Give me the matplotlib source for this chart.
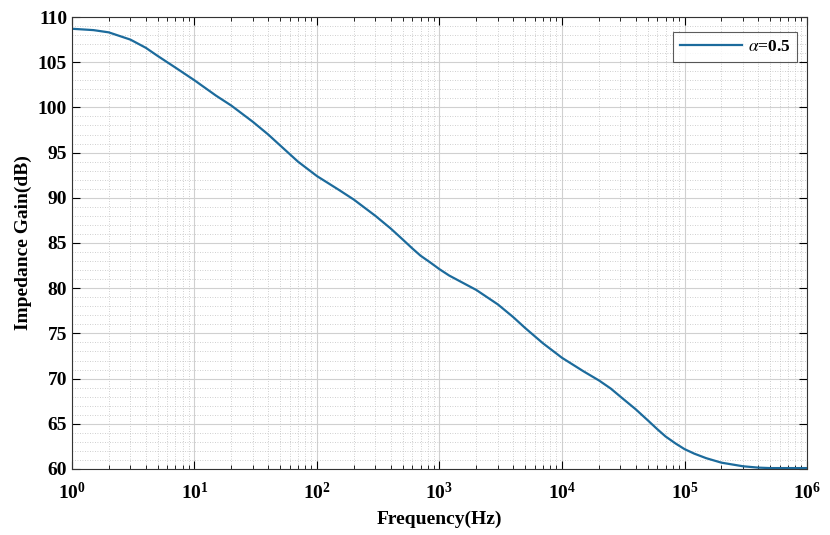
import matplotlib
matplotlib.use("Agg")
import matplotlib.pyplot as plt
from matplotlib.ticker import LogLocator, MultipleLocator, NullFormatter

freq = [1, 1.5, 2, 3, 4, 5, 7, 10, 15, 20, 30, 40, 50, 70, 100, 150, 200, 300,
        400, 500, 600, 700, 850, 1000, 1200, 1500, 2000, 3000, 4000, 5000,
        7000, 10000, 15000, 20000, 25000, 30000, 40000, 50000, 60000, 70000,
        85000, 100000, 120000, 150000, 200000, 300000, 400000, 500000,
        700000, 1000000]
gain = [108.7, 108.55, 108.3, 107.5, 106.6, 105.7, 104.4, 103.0, 101.3,
        100.2, 98.4, 97.0, 95.8, 94.0, 92.4, 90.9, 89.8, 88.0, 86.6, 85.4,
        84.4, 83.6, 82.8, 82.1, 81.4, 80.7, 79.8, 78.2, 76.8, 75.6, 73.9,
        72.3, 70.8, 69.8, 68.9, 68.0, 66.6, 65.4, 64.4, 63.6, 62.8, 62.2,
        61.7, 61.2, 60.7, 60.3, 60.15, 60.1, 60.1, 60.1]

plt.rcParams['font.family'] = ['Liberation Serif', 'DejaVu Serif']
plt.rcParams['mathtext.fontset'] = 'stix'

fig = plt.figure(figsize=(8.3, 5.35), dpi=100)
ax = fig.add_axes([0.0867, 0.1234, 0.8856, 0.8448])

ax.semilogx(freq, gain, color='#1c6b9c', lw=1.6, label=r'$\alpha$=0.5')
ax.set_xlim(1, 1e6)
ax.set_ylim(60, 110)

ax.xaxis.set_major_locator(LogLocator(base=10, numticks=10))
ax.xaxis.set_minor_locator(LogLocator(base=10, subs=range(2, 10), numticks=20))
ax.xaxis.set_minor_formatter(NullFormatter())
ax.yaxis.set_major_locator(MultipleLocator(5))
ax.yaxis.set_minor_locator(MultipleLocator(1))

ax.grid(which='major', color='#d0d0d0', lw=0.8, ls='-')
ax.grid(which='minor', color='#c0c0c0', lw=0.6, ls=(0, (1, 2)))
ax.set_axisbelow(True)

ax.tick_params(which='both', direction='in', top=True, right=True)
ax.tick_params(which='major', length=6, width=0.8, labelsize=14)
ax.tick_params(axis='x', which='major', pad=9)
ax.tick_params(which='minor', length=3, width=0.6)
ax.tick_params(axis='y', which='minor', left=False, right=False)
for lab in ax.get_xticklabels() + ax.get_yticklabels():
    lab.set_fontweight('bold')
for s in ax.spines.values():
    s.set_color('#333333')
    s.set_linewidth(0.8)

ax.set_xlabel('Frequency(Hz)', fontsize=14, fontweight='bold', labelpad=6)
ax.set_ylabel('Impedance Gain(dB)', fontsize=14, fontweight='bold', labelpad=4)

leg = ax.legend(loc='upper right', bbox_to_anchor=(1 - 10 / 735, 1 - 15 / 452),
                borderaxespad=0, frameon=True, fancybox=False,
                edgecolor='#333333', handlelength=3.6, borderpad=0.4,
                handletextpad=0.3, prop={'weight': 'bold', 'size': 12.5})
leg.get_frame().set_linewidth(0.8)

fig.savefig('out.png', dpi=100)
